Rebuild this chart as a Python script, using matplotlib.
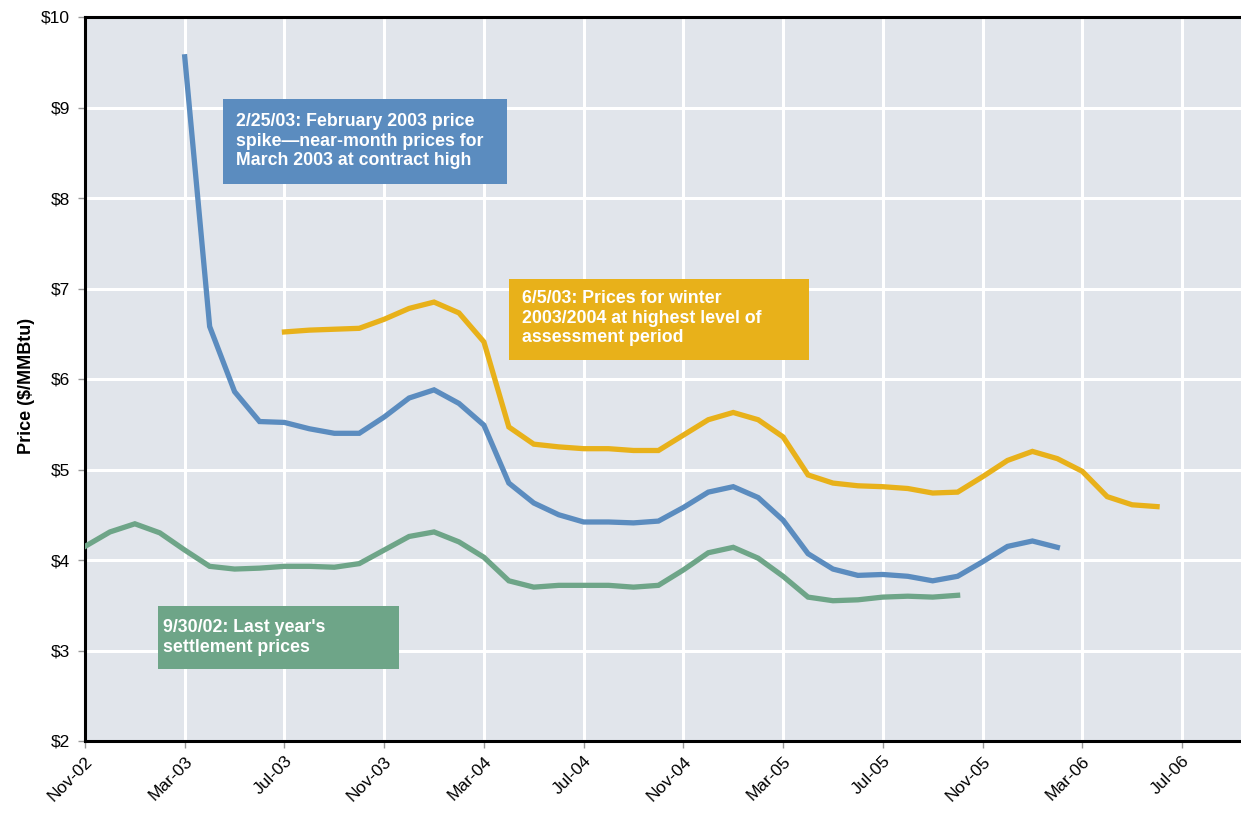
import matplotlib
matplotlib.use("Agg")
import matplotlib.pyplot as plt
import matplotlib.transforms as mtransforms
import numpy as np

plt.rcParams['font.family'] = ['Liberation Sans', 'DejaVu Sans']

# Month index 0 = Nov-02
tick_labels = ["Nov-02", "Mar-03", "Jul-03", "Nov-03", "Mar-04", "Jul-04",
               "Nov-04", "Mar-05", "Jul-05", "Nov-05", "Mar-06", "Jul-06"]
tick_months = list(range(0, 48, 4))

green_start = 0
green_vals = [4.15, 4.31, 4.40, 4.30, 4.11, 3.93, 3.90, 3.91, 3.93, 3.93, 3.92, 3.96,
              4.11, 4.26, 4.31, 4.20, 4.03, 3.77, 3.70, 3.72, 3.72, 3.72, 3.70, 3.72,
              3.89, 4.08, 4.14, 4.02, 3.82, 3.59, 3.55, 3.56, 3.59, 3.60, 3.59, 3.61]

blue_start = 4
blue_vals = [9.56, 6.58, 5.86, 5.53, 5.52, 5.45, 5.40, 5.40, 5.58, 5.79, 5.88, 5.73,
             5.49, 4.85, 4.63, 4.50, 4.42, 4.42, 4.41, 4.43, 4.58, 4.75, 4.81, 4.69,
             4.44, 4.07, 3.90, 3.83, 3.84, 3.82, 3.77, 3.82, 3.98, 4.15, 4.21, 4.14]

yellow_start = 8
yellow_vals = [6.52, 6.54, 6.55, 6.56, 6.66, 6.78, 6.85, 6.73, 6.41, 5.47, 5.28, 5.25,
               5.23, 5.23, 5.21, 5.21, 5.38, 5.55, 5.63, 5.55, 5.36, 4.94, 4.85, 4.82,
               4.81, 4.79, 4.74, 4.75, 4.92, 5.10, 5.20, 5.12, 4.98, 4.70, 4.61, 4.59]

blue_note = "2/25/03: February 2003 price\nspike\u2014near-month prices for\nMarch 2003 at contract high"
yellow_note = "6/5/03: Prices for winter\n2003/2004 at highest level of\nassessment period"
green_note = "9/30/02: Last year's\nsettlement prices"

c_blue = "#5b8cbf"
c_yellow = "#e8b11a"
c_green = "#6ea588"

W, H = 1241, 814
fig = plt.figure(figsize=(W / 100, H / 100), dpi=100)
left_px, right_px, top_px, bot_px = 85, 1241, 17, 741
ax = fig.add_axes([left_px / W, 1 - bot_px / H, (right_px - left_px) / W, (bot_px - top_px) / H])
ax.set_facecolor("#e1e5eb")

px_per_month = (1182 - 85) / 44
ax.set_xlim(0, (right_px - left_px) / px_per_month)
ax.set_ylim(2, 10)

for start, vals, col in [(green_start, green_vals, c_green),
                         (blue_start, blue_vals, c_blue),
                         (yellow_start, yellow_vals, c_yellow)]:
    x = np.arange(start, start + len(vals))
    ax.plot(x, vals, color=col, lw=3.8, solid_joinstyle='miter', zorder=3)

ax.set_xticks(tick_months)
ax.set_xticklabels(tick_labels, rotation=45, ha='right', rotation_mode='anchor', fontsize=12.5)
offset = mtransforms.ScaledTranslation(-12 / 100, -6 / 100, fig.dpi_scale_trans)
for lbl in ax.get_xticklabels():
    lbl.set_transform(lbl.get_transform() + offset)
ax.set_yticks(range(2, 11))
ax.set_yticklabels([f"${v}" for v in range(2, 11)], fontsize=12.5)
ax.grid(True, color="white", lw=2.2, zorder=1)
ax.set_axisbelow(True)
ax.tick_params(axis='both', direction='out', length=5, width=1, color="#999999", pad=6)
ax.tick_params(axis='x', pad=4)

for s in ['left', 'bottom', 'top']:
    ax.spines[s].set_color('black')
    ax.spines[s].set_linewidth(2.2)
ax.spines['right'].set_visible(False)

ax.set_ylabel("Price ($/MMBtu)", fontsize=13, fontweight='bold')
ax.yaxis.set_label_coords(-0.043, 0.49)

def px2data(xp, yp):
    xd = (xp - left_px) / px_per_month
    yd = 2 + (bot_px - yp) / ((bot_px - top_px) / 8)
    return xd, yd

def note(x0, y0, x1, y1, text, col, tx, ty):
    a, b = px2data(x0, y1)
    c, d = px2data(x1, y0)
    ax.add_patch(plt.Rectangle((a, b), c - a, d - b, facecolor=col, edgecolor='none', zorder=4))
    xt, yt = px2data(tx, ty)
    ax.text(xt, yt, text, color='white', fontsize=12.8, fontweight='bold', va='top', ha='left',
            linespacing=1.2, zorder=5)

note(223, 99, 507, 184, blue_note, c_blue, 236, 113)
note(509, 279, 809, 360, yellow_note, c_yellow, 522, 290)
note(158, 606, 399, 669, green_note, c_green, 163, 619)

fig.savefig("out.png", dpi=100)
